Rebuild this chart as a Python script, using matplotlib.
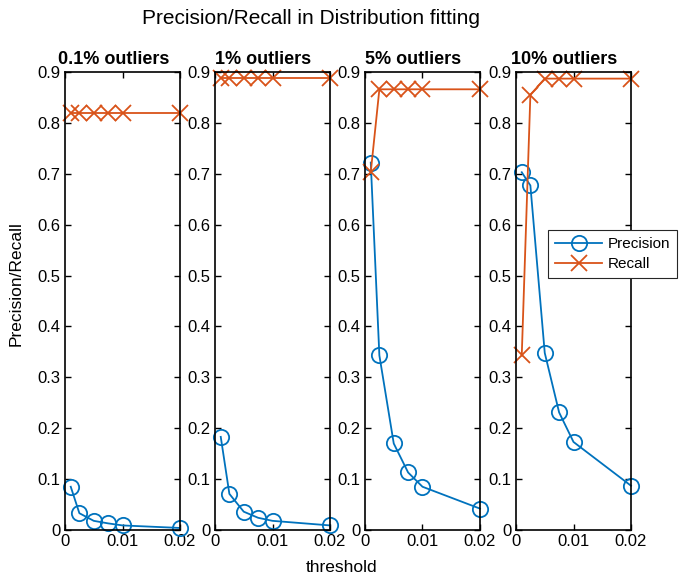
import matplotlib
matplotlib.use("Agg")
import matplotlib.pyplot as plt
from matplotlib.transforms import offset_copy

plt.rcParams['font.family'] = ['Liberation Sans', 'DejaVu Sans']

thresholds = [0.001, 0.0025, 0.005, 0.0075, 0.01, 0.02]
titles = ['0.1% outliers', '1% outliers', '5% outliers', '10% outliers']
precision = [
    [0.085, 0.033, 0.018, 0.013, 0.009, 0.004],
    [0.183, 0.071, 0.036, 0.024, 0.018, 0.009],
    [0.722, 0.343, 0.170, 0.113, 0.085, 0.042],
    [0.703, 0.677, 0.348, 0.231, 0.173, 0.087],
]
recall = [
    [0.820, 0.820, 0.820, 0.820, 0.820, 0.820],
    [0.889, 0.889, 0.889, 0.889, 0.889, 0.889],
    [0.703, 0.866, 0.866, 0.866, 0.866, 0.866],
    [0.343, 0.855, 0.887, 0.887, 0.887, 0.887],
]
yticks = [0, 0.1, 0.2, 0.3, 0.4, 0.5, 0.6, 0.7, 0.8, 0.9]
ytick_labels = ['0', '0.1', '0.2', '0.3', '0.4', '0.5', '0.6', '0.7', '0.8', '0.9']
xticks = [0, 0.01, 0.02]
xtick_labels = ['0', '0.01', '0.02']

blue = '#0072BD'
orange = '#D95319'

fig = plt.figure(figsize=(6.81, 5.78), dpi=100)
W, H = 681, 578
lefts = [65, 215, 365, 516]
axw = 115
top, bottom = 72, 530

for i in range(4):
    ax = fig.add_axes([lefts[i] / W, (H - bottom) / H, axw / W, (bottom - top) / H])
    lp, = ax.plot(thresholds, precision[i], '-o', color=blue, markersize=11,
                  markerfacecolor='none', markeredgewidth=1.3, linewidth=1.3,
                  label='Precision', clip_on=False)
    lr, = ax.plot(thresholds, recall[i], '-x', color=orange, markersize=11,
                  markeredgewidth=1.3, linewidth=1.3, label='Recall', clip_on=False)
    ax.set_xlim(0, 0.02)
    ax.set_ylim(0, 0.9)
    ax.set_xticks(xticks)
    ax.set_xticklabels(xtick_labels)
    ax.set_yticks(yticks)
    ax.set_yticklabels(ytick_labels)
    ax.tick_params(direction='in', top=True, right=True, labelsize=12, length=4,
                   width=1, pad=3)
    for s in ax.spines.values():
        s.set_linewidth(1.2)
    tr = offset_copy(ax.transAxes, fig=fig, x=-9, y=4, units='dots')
    ax.text(0.5, 1.0, titles[i], transform=tr, ha='center', va='bottom',
            fontsize=13, fontweight='bold')

fig.text(16 / W, 1 - 284 / H, 'Precision/Recall', ha='center', va='center',
         rotation=90, fontsize=12.5)
fig.text(342 / W, 1 - 567 / H, 'threshold', ha='center', va='center', fontsize=12.5)
fig.text(311 / W, 1 - 18 / H, 'Precision/Recall in Distribution fitting',
         ha='center', va='center', fontsize=15)

leg = fig.legend([lp, lr], ['Precision', 'Recall'], loc='upper left',
                 bbox_to_anchor=(548 / W, 1 - 230 / H), fontsize=11,
                 frameon=True, fancybox=False, edgecolor='#262626', framealpha=1,
                 handlelength=3.1, borderpad=0.45, labelspacing=0.4, handletextpad=0.35,
                 borderaxespad=0)
leg.get_frame().set_linewidth(0.8)

fig.savefig('out.png', dpi=100)
